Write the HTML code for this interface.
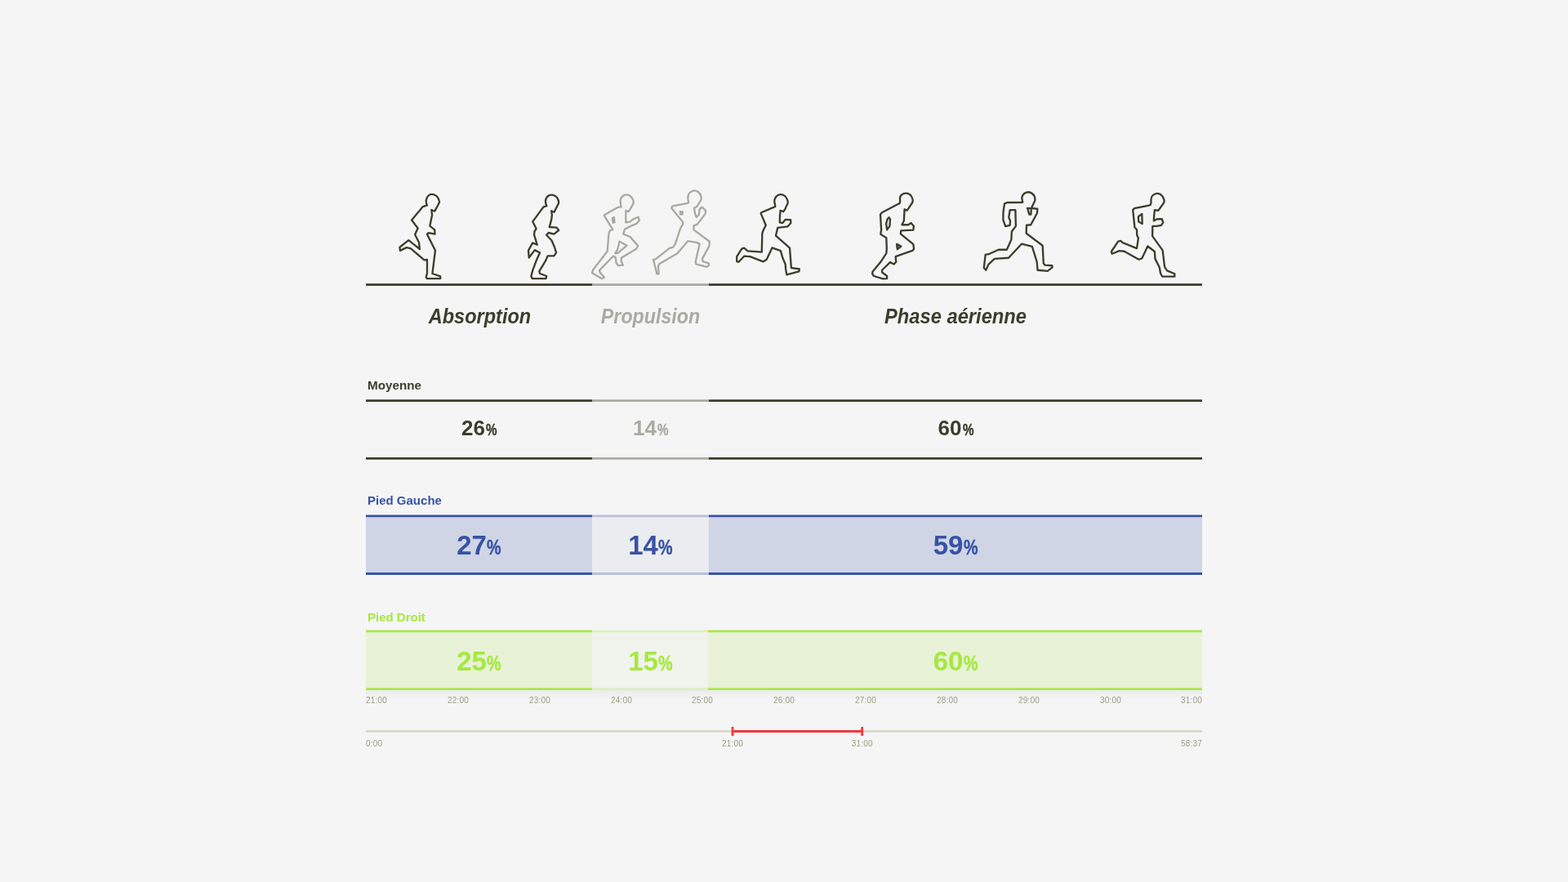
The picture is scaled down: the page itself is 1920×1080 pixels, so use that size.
<!DOCTYPE html>
<html lang="fr">
<head>
<meta charset="utf-8">
<title>Phases de course</title>
<style>
*{box-sizing:border-box;margin:0;padding:0}
html,body{width:1920px;height:1080px;overflow:hidden;background:#f5f5f5}
body{position:relative;font-family:"Liberation Sans",sans-serif;color:#3d3d2d}
.abs{position:absolute}
.phase{position:absolute;margin-left:0.6px;top:371.4px;height:32px;line-height:32px;font-size:26px;font-weight:700;font-style:italic;text-align:center;white-space:nowrap;transform:scaleX(0.905);transform-origin:50% 50%}
.lbl{position:absolute;left:450px;font-size:15.5px;transform:scaleX(0.968);font-weight:700;line-height:20px;white-space:nowrap;transform-origin:0 50%}
.val{position:absolute;display:flex;justify-content:center;align-items:baseline;font-weight:700;white-space:nowrap}
.val i{font-style:normal;display:inline-block;transform:scaleX(0.76);transform-origin:0 50%;-webkit-text-stroke:0.45px currentColor}
.m{font-size:26px;line-height:30px;top:509px;margin-left:0.6px}
.m i{font-size:20px;width:14px;margin-left:1.1px}
.b{font-size:33px;line-height:38px}
.b i{font-size:26px;width:17.6px;margin-left:0.3px}
.s1{left:448px;width:277px}
.s2{left:725px;width:143px}
.s3{left:868px;width:604px}
.blue{color:#3853a4}
.green{color:#a6e842}
.tick{position:absolute;letter-spacing:0.2px;font-size:10px;line-height:12px;color:#9c9c84;white-space:nowrap;width:40px;text-align:center}
#runners{position:absolute;left:0;top:0}
</style>
</head>
<body>
<svg id="runners" width="1920" height="440" viewBox="0 0 1920 440" fill="none" stroke="#3d3d2d" stroke-width="21" stroke-linejoin="round" stroke-linecap="round">
<!--R1-->
<g transform="translate(475 230) scale(0.11111)">
<path d="M432,192 C415,160 415,110 450,82 C480,62 525,70 548,105 C560,125 570,145 567,160 L535,222 L515,257 L480,243 L487,300 L462,420 L515,462 L518,510 L445,497 L432,512 L522,690 L490,945 L578,975 L578,1000 L430,1000 L420,985 L432,940 L432,792 L400,795 L250,668 L205,658 L135,692 L130,655 L228,577 L350,675 L342,600 L298,515 L330,445 L262,355 L385,208 Z"/>
</g>
<!--/R1-->
<!--R2-->
<g transform="translate(625 230) scale(0.11111)">
<path d="M400,200 C380,165 380,115 418,88 C450,68 495,78 515,110 C527,130 535,150 532,168 L500,232 L482,268 L452,255 L458,300 L452,350 L430,432 L510,437 L532,468 L480,510 L420,495 L397,520 L455,580 L485,650 L505,715 L480,750 L410,750 L390,800 L318,920 L325,945 L398,972 L392,1000 L240,1000 L228,975 L245,910 L290,790 L325,715 L268,685 L205,770 L198,690 L245,607 L295,628 L262,520 L265,480 L285,450 L245,372 L365,210 Z"/>
</g>
<!--/R2-->
<!--R3-->
<g transform="translate(715 230) scale(0.11111)" stroke="#a9aaa2">
<path d="M410,210 L405,180 C395,130 410,95 450,78 C490,65 530,95 545,140 C550,160 545,175 535,190 L495,260 L462,252 L462,300 L462,382 L505,375 L545,345 L598,322 L612,358 L580,395 L520,420 L450,455 L435,510 L510,540 L595,638 L580,670 L415,770 L410,810 L432,852 L375,855 L355,825 L350,770 L325,752 L170,910 L178,935 L225,985 L198,1002 L90,938 L100,905 L258,700 L275,495 L290,470 L318,460 L222,302 L372,215 Z"/>
<path d="M313,333 L333,326 L337,382 L322,385 Z" fill="#a9aaa2" fill-opacity="0.7"/>
<path d="M392,592 L472,635 L375,718 L345,722 L370,680 Z"/>
</g>
<!--/R3-->
<!--R4-->
<g transform="translate(795 228) scale(0.11111)" stroke="#a9aaa2">
<path d="M435,180 L428,150 C420,100 440,60 485,50 C525,42 560,70 572,115 C578,135 570,150 565,160 L525,225 L495,240 L505,305 L520,343 L548,310 L555,255 L580,230 L620,265 L620,300 L530,420 L490,435 L490,480 L665,610 L660,660 L585,800 L590,830 L655,850 L658,870 L635,890 L515,858 L510,835 L555,635 L520,620 L425,605 L310,740 L110,858 L98,880 L105,965 L85,965 L45,810 L70,805 L220,685 L262,672 L285,640 L345,460 L370,420 L370,395 L245,240 L255,220 L410,190 Z"/>
<path d="M341,280 L366,280 L366,311 L343,308 Z" fill="#a9aaa2" fill-opacity="0.7"/>
</g>
<!--/R4-->
<!--R5-->
<g transform="translate(895 228) scale(0.11111)">
<path d="M488,225 L485,195 C470,160 485,115 525,95 C565,80 605,105 620,145 C630,170 630,180 625,190 L598,250 L578,280 L545,268 L540,330 L538,400 L570,405 L600,368 L658,370 L660,405 L625,445 L515,458 L495,545 L648,680 L665,900 L755,912 L750,940 L615,975 L605,920 L600,860 L570,790 L548,712 L455,678 L395,805 L355,832 L210,775 L148,770 L85,835 L65,830 L65,775 L120,690 L145,680 L185,715 L340,725 L345,520 L355,490 L385,430 L330,300 L335,290 L475,230 Z"/>
</g>
<!--/R5-->
<!--R6-->
<g transform="translate(1050 228) scale(0.11111)">
<path d="M465,190 L470,160 C462,120 480,90 515,80 C555,70 595,95 605,135 C612,160 610,170 605,180 L555,255 L545,268 L518,255 L512,380 L490,425 L560,425 L590,405 L620,440 L615,482 L480,490 L475,525 L615,640 L622,690 L605,710 L420,775 L425,835 L402,860 L360,838 L270,925 L272,950 L325,990 L325,1018 L280,1020 L180,990 L163,965 L168,940 L255,835 L318,740 L322,690 L318,570 L255,530 L262,480 L252,310 L270,290 L450,195 Z"/>
<path d="M348,345 L360,362 L355,440 L325,480 L316,410 L330,362 Z"/>
<path d="M432,638 L480,662 L440,695 Z" fill="#3d3d2d" fill-opacity="0.6"/>
</g>
<!--/R6-->
<!--R7-->
<g transform="translate(1195 228) scale(0.11111)">
<path d="M515,178 L510,150 C500,115 520,80 555,68 C595,58 635,80 648,120 C655,145 652,155 648,165 L615,235 L608,242 L678,250 L675,295 L605,425 L558,430 L555,520 L735,655 L745,850 L760,870 L840,875 L842,895 L790,935 L680,925 L672,835 L620,665 L505,635 L360,790 L205,800 L140,860 L110,925 L88,900 L105,755 L150,745 L250,700 L340,700 L390,590 L395,500 L440,440 L435,262 L375,262 L362,345 L378,380 L375,430 L325,442 L300,370 L302,280 L315,192 L345,180 Z"/>
<path d="M568,242 L610,245 L606,312 L588,312 Z"/>
</g>
<!--/R7-->
<!--R8-->
<g transform="translate(1350 228) scale(0.11111)">
<path d="M528,205 L535,185 L535,150 C535,115 560,85 600,80 C640,78 670,110 678,150 C682,165 680,175 675,185 L615,268 L575,262 L568,330 L565,382 L600,362 L655,362 L668,400 L648,430 L600,440 L552,440 L550,550 L662,705 L685,890 L712,930 L795,965 L795,995 L658,995 L640,960 L628,895 L580,800 L575,720 L498,662 L435,795 L400,808 L240,718 L185,712 L105,745 L98,720 L172,608 L200,602 L222,622 L378,685 L395,572 L380,540 L378,480 L355,455 L335,262 L350,245 L520,210 Z"/>
<path d="M435,305 L438,415 L398,392 L395,335 Z"/>
</g>
<!--/R8-->
</svg>

<svg class="abs" style="left:0;top:0" width="1920" height="1080" viewBox="0 0 1920 1080">
<defs><linearGradient id="sh" x1="0" y1="0" x2="0" y2="1"><stop offset="0" stop-color="#000" stop-opacity="0.045"/><stop offset="0.5" stop-color="#000" stop-opacity="0.018"/><stop offset="1" stop-color="#000" stop-opacity="0"/></linearGradient></defs>
<rect x="448" y="347.2" width="277" height="2.8" fill="#3d3d2d"/><rect x="725" y="347.2" width="142.85" height="2.8" fill="#aaaba3"/><rect x="867.85" y="347.2" width="604.15" height="2.8" fill="#3d3d2d"/>
<rect x="448" y="489.25" width="277" height="2.75" fill="#3d3d2d"/><rect x="725" y="489.25" width="142.85" height="2.75" fill="#aaaba3"/><rect x="867.85" y="489.25" width="604.15" height="2.75" fill="#3d3d2d"/>
<rect x="448" y="560" width="277" height="2.75" fill="#3d3d2d"/><rect x="725" y="560" width="142.85" height="2.75" fill="#aaaba3"/><rect x="867.85" y="560" width="604.15" height="2.75" fill="#3d3d2d"/>
<rect x="448" y="632" width="277" height="70" fill="#d0d5e6"/><rect x="725" y="632" width="142.85" height="70" fill="#ebecf0"/><rect x="867.85" y="632" width="604.15" height="70" fill="#d0d5e6"/>
<rect x="448" y="630.5" width="277" height="2.7" fill="#3853a4"/><rect x="725" y="630.5" width="142.85" height="2.7" fill="#b7c0dc"/><rect x="867.85" y="630.5" width="604.15" height="2.7" fill="#3853a4"/>
<rect x="448" y="701" width="277" height="3" fill="#3853a4"/><rect x="725" y="701" width="142.85" height="3" fill="#b7c0dc"/><rect x="867.85" y="701" width="604.15" height="3" fill="#3853a4"/>
<rect x="448" y="845" width="1024" height="13" fill="url(#sh)"/>
<rect x="448" y="773" width="277" height="71" fill="#e8f2d6"/><rect x="725" y="773" width="142" height="71" fill="#f1f3ed"/><rect x="867" y="773" width="605" height="71" fill="#e8f2d6"/>
<rect x="448" y="771.6" width="277" height="2.7" fill="#a6e842"/><rect x="725" y="771.6" width="142" height="2.7" fill="#dcefbf"/><rect x="867" y="771.6" width="605" height="2.7" fill="#a6e842"/>
<rect x="448" y="842.4" width="277" height="2.6" fill="#a6e842"/><rect x="725" y="842.4" width="142" height="2.6" fill="#dcefbf"/><rect x="867" y="842.4" width="605" height="2.6" fill="#a6e842"/>
<rect x="448" y="894.2" width="1024" height="2.5" fill="#d6d6c6"/>
<rect x="896.5" y="894" width="160" height="3" fill="#f03a3c"/>
<rect x="895.6" y="889.9" width="2.8" height="11.2" rx="0.7" fill="#f03a3c"/>
<rect x="1054.3" y="889.9" width="2.8" height="11.2" rx="0.7" fill="#f03a3c"/>
</svg>
<div class="phase s1">Absorption</div>
<div class="phase s2" style="color:#aaaba3;transform:scaleX(0.893);margin-left:-0.4px">Propulsion</div>
<div class="phase s3" style="transform:scaleX(0.912);margin-left:-0.2px">Phase aérienne</div>

<div class="lbl" style="top:461.6px;transform:scaleX(0.984)">Moyenne</div>
<div class="val m s1"><span>26</span><i>%</i></div>
<div class="val m s2" style="color:#aaaba3"><span>14</span><i>%</i></div>
<div class="val m s3"><span>60</span><i>%</i></div>

<div class="lbl blue" style="top:602.6px">Pied Gauche</div>
<div class="val b s1 blue" style="top:649px"><span>27</span><i>%</i></div>
<div class="val b s2 blue" style="top:649px"><span>14</span><i>%</i></div>
<div class="val b s3 blue" style="top:649px"><span>59</span><i>%</i></div>

<div class="lbl green" style="top:745.6px">Pied Droit</div>
<div class="val b s1 green" style="top:791px"><span>25</span><i>%</i></div>
<div class="val b s2 green" style="top:791px"><span>15</span><i>%</i></div>
<div class="val b s3 green" style="top:791px"><span>60</span><i>%</i></div>

<div class="tick" style="left:448px;top:852px;text-align:left">21:00</div>
<div class="tick" style="left:541px;top:852px">22:00</div>
<div class="tick" style="left:641px;top:852px">23:00</div>
<div class="tick" style="left:741px;top:852px">24:00</div>
<div class="tick" style="left:840px;top:852px">25:00</div>
<div class="tick" style="left:940px;top:852px">26:00</div>
<div class="tick" style="left:1040px;top:852px">27:00</div>
<div class="tick" style="left:1140px;top:852px">28:00</div>
<div class="tick" style="left:1240px;top:852px">29:00</div>
<div class="tick" style="left:1340px;top:852px">30:00</div>
<div class="tick" style="left:1432px;top:852px;text-align:right">31:00</div>

<div class="tick" style="left:448px;top:905px;text-align:left">0:00</div>
<div class="tick" style="left:877px;top:905px">21:00</div>
<div class="tick" style="left:1035.7px;top:905px">31:00</div>
<div class="tick" style="left:1432px;top:905px;text-align:right">58:37</div>
</body>
</html>
